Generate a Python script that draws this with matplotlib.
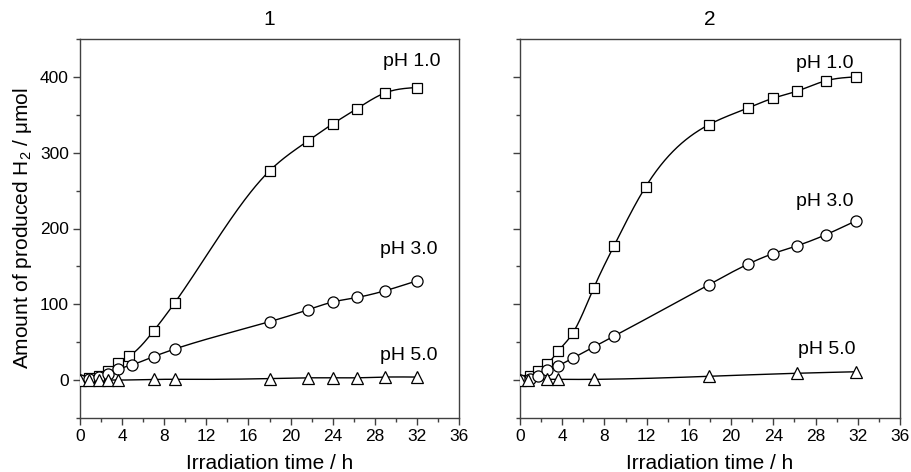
import numpy as np
import matplotlib
matplotlib.use("Agg")
import matplotlib.pyplot as plt
from matplotlib.ticker import MultipleLocator

plt.rcParams['font.family'] = ['Liberation Sans', 'DejaVu Sans']
plt.rcParams['mathtext.fontset'] = 'custom'
plt.rcParams['mathtext.rm'] = 'Liberation Sans'
plt.rcParams['mathtext.it'] = 'Liberation Sans'

# ---------------- data ----------------
panel_titles = ["1", "2"]
series_labels = ["pH 1.0", "pH 3.0", "pH 5.0"]

# Panel 1
p1_t_sq = [0, 0.9, 1.8, 2.7, 3.6, 4.7, 7.0, 9.0, 18.0, 21.7, 24.0, 26.3, 29.0, 32.0]
p1_ph1 = [0, 3, 6, 12, 23, 32, 65, 102, 276, 316, 338, 358, 379, 386]
p1_t_ci = [0, 0.9, 1.8, 2.7, 3.6, 4.9, 7.0, 9.0, 18.0, 21.7, 24.0, 26.3, 29.0, 32.0]
p1_ph3 = [0, 2, 4, 8, 14, 20, 31, 41, 77, 93, 103, 109, 118, 131]
p1_t_tr = [0, 0.9, 1.8, 2.7, 3.6, 7.0, 9.0, 18.0, 21.7, 24.0, 26.3, 29.0, 32.0]
p1_ph5 = [0, 0, 0, 0, 0, 1, 1, 2, 3, 3, 3, 4, 4]

# Panel 2
p2_t_sq = [0, 0.9, 1.7, 2.6, 3.6, 5.0, 7.0, 8.9, 11.9, 17.9, 21.6, 24.0, 26.2, 29.0, 31.8]
p2_ph1 = [0, 5, 12, 21, 38, 62, 122, 177, 255, 337, 359, 372, 381, 395, 400]
p2_t_ci = [0, 0.9, 1.7, 2.6, 3.6, 5.0, 7.0, 8.9, 17.9, 21.6, 24.0, 26.2, 29.0, 31.8]
p2_ph3 = [0, 2, 6, 13, 19, 29, 44, 58, 126, 153, 167, 177, 192, 210]
p2_t_tr = [0, 0.8, 2.6, 3.6, 7.0, 17.9, 26.2, 31.8]
p2_ph5 = [0, 0, 1, 1, 1, 5, 9, 11]

x_ticks = [0, 4, 8, 12, 16, 20, 24, 28, 32, 36]
y_ticks = [0, 100, 200, 300, 400]


def natural_spline(x, y, n=400):
    x = np.asarray(x, float)
    y = np.asarray(y, float)
    m = len(x)
    h = np.diff(x)
    A = np.zeros((m, m))
    r = np.zeros(m)
    A[0, 0] = 1
    A[-1, -1] = 1
    for i in range(1, m - 1):
        A[i, i - 1] = h[i - 1]
        A[i, i] = 2 * (h[i - 1] + h[i])
        A[i, i + 1] = h[i]
        r[i] = 3 * ((y[i + 1] - y[i]) / h[i] - (y[i] - y[i - 1]) / h[i - 1])
    c = np.linalg.solve(A, r)
    b = (y[1:] - y[:-1]) / h - h * (2 * c[:-1] + c[1:]) / 3
    d = (c[1:] - c[:-1]) / (3 * h)
    xs = np.linspace(x[0], x[-1], n)
    idx = np.clip(np.searchsorted(x, xs, side='right') - 1, 0, m - 2)
    dx = xs - x[idx]
    ys = y[idx] + b[idx] * dx + c[idx] * dx ** 2 + d[idx] * dx ** 3
    return xs, ys


fig = plt.figure(figsize=(9.11, 4.72), dpi=100)
ax1 = fig.add_axes([80 / 911, 1 - 418 / 472, 379 / 911, 379 / 472])
ax2 = fig.add_axes([520 / 911, 1 - 418 / 472, 380 / 911, 379 / 472])

panels = [
    (ax1, [(p1_t_sq, p1_ph1, 's'), (p1_t_ci, p1_ph3, 'o'), (p1_t_tr, p1_ph5, '^')],
     [(383, 62), (380, 250), (380, 355)]),
    (ax2, [(p2_t_sq, p2_ph1, 's'), (p2_t_ci, p2_ph3, 'o'), (p2_t_tr, p2_ph5, '^')],
     [(796, 63), (796, 202), (798, 350)]),
]

spine_col = '#404040'
for k, (ax, series, lab_pos) in enumerate(panels):
    for (t, v, mk) in series:
        xs, ys = natural_spline(t, v)
        ax.plot(xs, ys, color='black', lw=1.0, zorder=2)
        ms = 7 if mk == 's' else (8 if mk == 'o' else 9)
        ax.plot(t, v, linestyle='none', marker=mk, ms=ms, mfc='white',
                mec='black', mew=0.9, zorder=3)
    for lbl, (px, py) in zip(series_labels, lab_pos):
        fig.text(px / 911, 1 - py / 472, lbl, fontsize=14, ha='left', va='center')
    ax.set_xlim(0, 36)
    ax.set_ylim(-50, 450)
    ax.set_xticks(x_ticks)
    ax.set_yticks(y_ticks)
    ax.xaxis.set_minor_locator(MultipleLocator(2))
    ax.yaxis.set_minor_locator(MultipleLocator(50))
    ax.tick_params(which='both', direction='out', top=False, right=False,
                   color=spine_col, width=1.0)
    ax.tick_params(which='major', length=5, labelsize=12.5, pad=3)
    ax.tick_params(which='minor', length=3)
    for s in ax.spines.values():
        s.set_color(spine_col)
        s.set_linewidth(1.0)
    ax.set_xlabel("Irradiation time / h", fontsize=15, labelpad=7)
    ax.set_title(panel_titles[k], fontsize=15, pad=10)

ax1.set_ylabel("Amount of produced H$_2$ / \u03bcmol", fontsize=15, labelpad=4)
ax2.tick_params(axis='y', labelleft=False)

fig.savefig("out.png", dpi=100)
